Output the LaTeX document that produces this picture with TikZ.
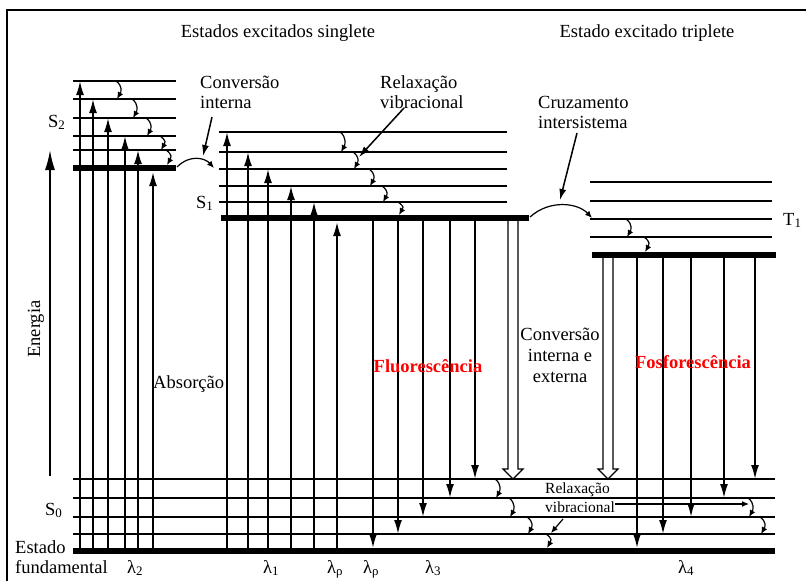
\documentclass[tikz,border=0pt]{standalone}
\usepackage{fontspec}
\setmainfont{Liberation Serif}
\usetikzlibrary{arrows.meta}

\newcommand{\curl}[3]{\draw[relax] (#1,#2) .. controls (#1+7,#2+5) and (#1+5,#3-7) .. (#1+1,#3);}
\newcommand{\hollowdown}[3]{\draw[hollow] (#1-5,#2) -- (#1-5,#3-10) -- (#1-10,#3-10) -- (#1,#3) -- (#1+10,#3-10) -- (#1+5,#3-10) -- (#1+5,#2);}

\begin{document}
\begin{tikzpicture}[x=1pt,y=-1pt]
		\tikzstyle{vibline}=[draw, line width=2pt]
		\tikzstyle{ground}=[draw, line width=6.5pt]
		\tikzstyle{trans}=[draw, line width=1.8pt, -{Latex[length=14pt,width=8pt]}]
		\tikzstyle{pointer}=[draw, line width=1.5pt, -{Latex[length=11pt,width=7pt]}]
		\tikzstyle{relax}=[draw, line width=1.2pt, -{Latex[length=7pt,width=6pt]}]
		\tikzstyle{hollow}=[draw, line width=1.3pt, fill=white]
		\tikzstyle{txt}=[font=\fontsize{18.5}{21}\selectfont, inner sep=0pt]
		\tikzstyle{small}=[font=\fontsize{15.5}{17}\selectfont, inner sep=0pt]
		\tikzstyle{emis}=[font=\fontsize{18.5}{21}\selectfont\bfseries, text=red, inner sep=0pt]

		\useasboundingbox (0,0) rectangle (806,581);
		\draw[line width=1.5pt] (7,590) -- (7,10) -- (815,10);

		% niveis S2, S1, T1, S0
		\foreach \y in {81,99,118,136,150} \draw[vibline] (73,\y) -- (176,\y);
		\draw[ground] (73,168) -- (176,168);
		\foreach \y in {132,152,169,186,202} \draw[vibline] (219,\y) -- (507,\y);
		\draw[ground] (221,218) -- (529,218);
		\foreach \y in {182,201,219,237} \draw[vibline] (590,\y) -- (772,\y);
		\draw[ground] (592,255) -- (776,255);
		\foreach \y in {479,498,517,534} \draw[vibline] (73,\y) -- (775,\y);
		\draw[ground] (73,551) -- (775,551);

		% absorcao
		\draw[trans, -{Latex[length=20pt,width=10pt]}] (50,476) -- (50,150);
		\foreach \x/\y in {80/81,93/99,108/118,125/136,138/150,153/172,227/132,248/152,268/169,291/186,314/202,337/222}
			\draw[trans] (\x,551) -- (\x,\y);

		% fluorescencia e fosforescencia
		\foreach \x/\y in {373/548,398/534,423/517,450/498,475/479}
			\draw[trans] (\x,221) -- (\x,\y);
		\foreach \x/\y in {637/548,663/534,691/517,724/498,755/479}
			\draw[trans] (\x,258) -- (\x,\y);
		\hollowdown{513}{221}{479}
		\hollowdown{608}{258}{479}

		% relaxacao vibracional
		\curl{116}{81}{99} \curl{132}{99}{118} \curl{146}{118}{136} \curl{160}{136}{150} \curl{166}{150}{165}
		\curl{340}{132}{152} \curl{353}{152}{169} \curl{369}{169}{186} \curl{382}{186}{202} \curl{398}{202}{215}
		\curl{626}{219}{237} \curl{644}{237}{252}
		\curl{495}{479}{498} \curl{509}{498}{517} \curl{527}{517}{534} \curl{546}{534}{548}
		\curl{748}{498}{517} \curl{760}{517}{534}

		% cruzamentos
		\draw[relax] (177,167) .. controls (190,154) and (205,158) .. (214,168);
		\draw[relax] (530,217) .. controls (550,199) and (578,203) .. (592,218);

		% textos
		\node[txt, anchor=base] (singlete) at (278,37) {Estados excitados singlete};
		\node[txt, anchor=base] (triplete) at (647,37) {Estado excitado triplete};
		\node[txt, anchor=base west] (conv) at (200,88) {Conversão};
		\node[txt, anchor=base west] (interna) at (200,108) {interna};
		\node[txt, anchor=base west] (relax) at (380,88) {Relaxação};
		\node[txt, anchor=base west] (vibr) at (380,108) {vibracional};
		\node[txt, anchor=base west] (cruz) at (538,108) {Cruzamento};
		\node[txt, anchor=base west] (inter) at (538,128) {intersistema};
		\node[txt, anchor=base west] (S2) at (48,127) {S\textsubscript{2}};
		\node[txt, anchor=base west] (S1) at (196,208) {S\textsubscript{1}};
		\node[txt, anchor=base west] (T1) at (783,225) {T\textsubscript{1}};
		\node[txt, anchor=base west] (S0) at (45,515) {S\textsubscript{0}};
		\node[txt, anchor=base west] (estado) at (15,553) {Estado};
		\node[txt, anchor=base west] (fund) at (15,573) {fundamental};
		\node[txt, rotate=90] (energia) at (36,329) {Energia};
		\node[txt, anchor=base west] (absorcao) at (153,388) {Absorção};
		\node[emis, anchor=base] (fluor) at (428,372) {Fluorescência};
		\node[emis, anchor=base] (fosfor) at (693,368) {Fosforescência};
		\node[txt, anchor=base] (conv2) at (560,340) {Conversão};
		\node[txt, anchor=base] (int2) at (560,361) {interna e};
		\node[txt, anchor=base] (ext2) at (560,382) {externa};
		\node[small, anchor=base west] (relax2) at (545,493) {Relaxação};
		\node[small, anchor=base west] (vibr2) at (545,512) {vibracional};
		\node[txt, anchor=base west] (l2) at (127,573) {λ\textsubscript{2}};
		\node[txt, anchor=base west] (l1) at (263,573) {λ\textsubscript{1}};
		\node[txt, anchor=base west] (lp) at (327,573) {λ\textsubscript{ρ}};
		\node[txt, anchor=base west] (lq) at (363,573) {λ\textsubscript{ρ}};
		\node[txt, anchor=base west] (l3) at (425,573) {λ\textsubscript{3}};
		\node[txt, anchor=base west] (l4) at (678,573) {λ\textsubscript{4}};

		% setas dos textos
		\coordinate (convTip) at (203,156);
		\coordinate (vibrTip) at (359,157);
		\coordinate (cruzTip) at (560,200);
		\coordinate (relaxTip) at (749,504);
		\coordinate (relaxLow) at (551,533);
		\draw[pointer] (212,117) -- (convTip);
		\draw[pointer] (404,108) -- (vibrTip);
		\draw[pointer] (577,133) -- (cruzTip);
		\draw[relax] (vibr2.east |- 0,504) -- (relaxTip);
		\draw[relax] (563,519) -- (relaxLow);
	\end{tikzpicture}
\end{document}
